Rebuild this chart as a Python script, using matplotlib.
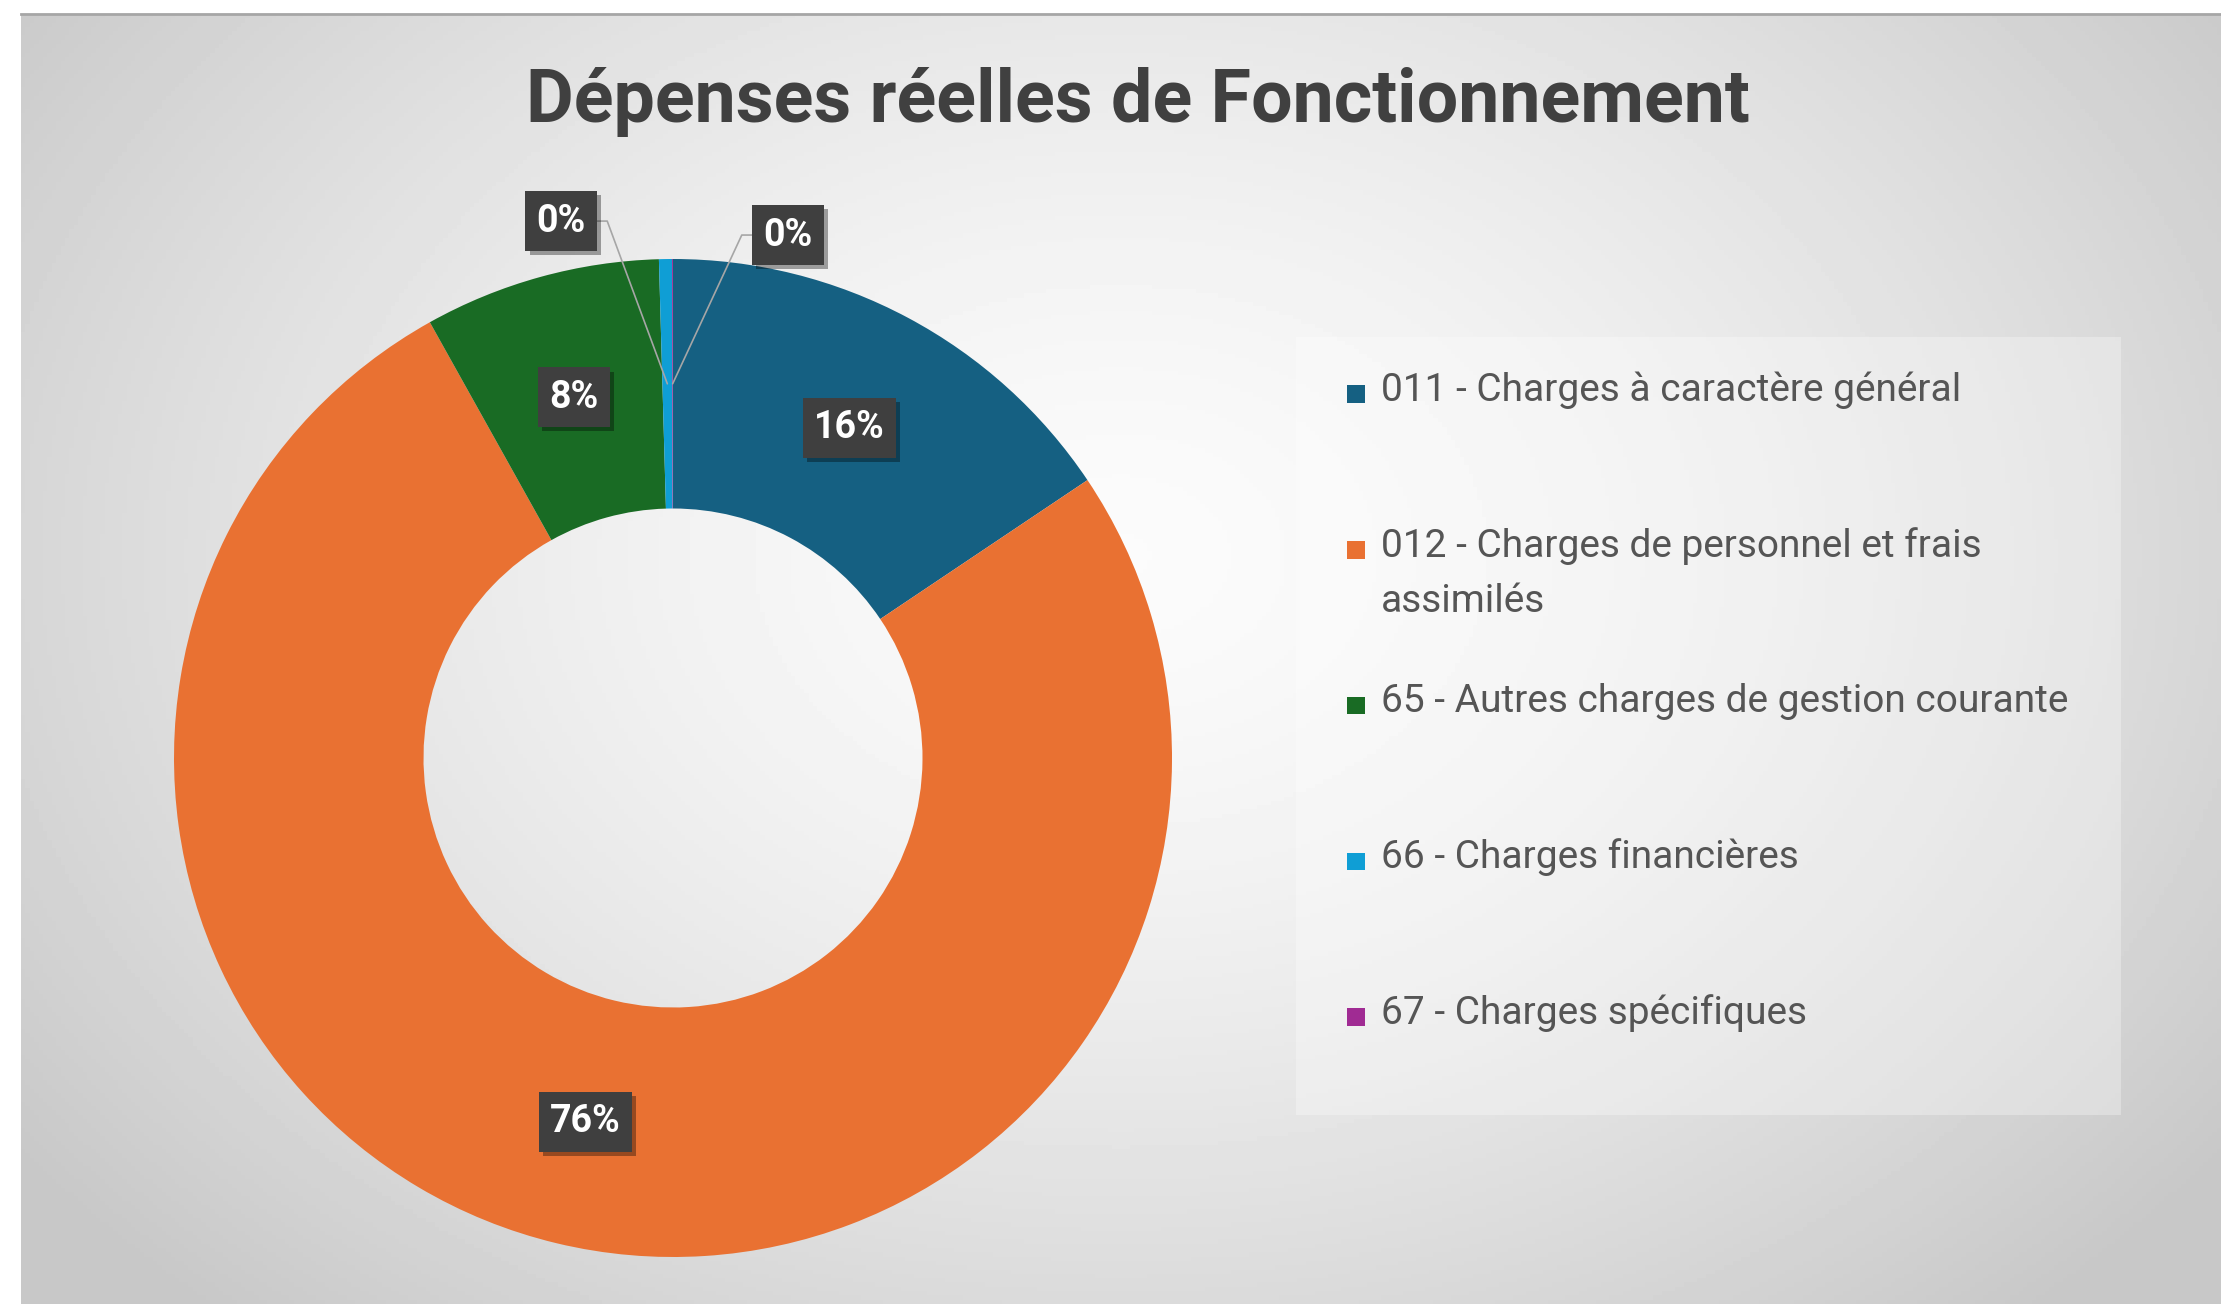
import numpy as np
import matplotlib.pyplot as plt
import matplotlib.patheffects as pe

# --- data -------------------------------------------------------------
categories = ["011 - Charges à caractère général",
              "012 - Charges de personnel et frais\nassimilés",
              "65 - Autres charges de gestion courante",
              "66 - Charges financières",
              "67 - Charges spécifiques"]
shares = [15.6, 76.3, 7.65, 0.42, 0.03]
pct_labels = ["16%", "76%", "8%", "0%", "0%"]
colors = ["#156082", "#E97132", "#196B24", "#0F9ED5", "#A02B93"]
title = "Dépenses réelles de Fonctionnement"

W, H = 2221, 1304
plt.rcParams['font.family'] = ['Roboto', 'DejaVu Sans']
fig = plt.figure(figsize=(W / 100, H / 100), dpi=100)
fig.patch.set_facecolor('white')

# background panel with radial gradient
bg = fig.add_axes([21 / W, 0, 1 - 21 / W, 1 - 14 / H])
yy, xx = np.mgrid[0:1:300j, 0:1:500j]
d = np.sqrt(((xx - 0.5) / 0.62) ** 2 + ((yy - 0.42) / 0.78) ** 2)
shade = 0.985 - 0.2 * np.clip(d, 0, 1) ** 1.5
bg.imshow(shade, cmap='gray', vmin=0, vmax=1, aspect='auto', extent=(0, 1, 0, 1))
bg.set_xticks([])
bg.set_yticks([])
for s in ['left', 'right', 'bottom']:
    bg.spines[s].set_visible(False)
bg.spines['top'].set_color('#a6a6a6')
bg.spines['top'].set_linewidth(2)

fig.text(1138 / W, 1 - 122 / H, title, ha='center', va='baseline',
         fontsize=53, fontweight='bold', color='#404040')

# donut
R, cx, cy = 499, 673, 758
half = 1.1 * R
ax = fig.add_axes([(cx - half) / W, (H - cy - half) / H, 2 * half / W, 2 * half / H])
wedges, _ = ax.pie(shares, colors=colors, startangle=90, counterclock=False, radius=1,
                   wedgeprops=dict(width=0.5, edgecolor='none', linewidth=0))
ax.set_xlim(-1.1, 1.1)
ax.set_ylim(-1.1, 1.1)
ax.set_aspect('equal')
ax.axis('off')

small_pos = iter([(-0.224, 1.076), (0.23, 1.048)])
small_arm = iter([0, 180])
for w, lab, val in zip(wedges, pct_labels, shares):
    mid = np.deg2rad((w.theta1 + w.theta2) / 2)
    px, py = 0.75 * np.cos(mid), 0.75 * np.sin(mid)
    box = dict(boxstyle='square,pad=0.3', facecolor='#3f3f3f', edgecolor='none')
    if val >= 1:
        t = ax.text(px, py, lab, ha='center', va='center', fontsize=27,
                    fontweight='bold', color='white', bbox=box)
    else:
        t = ax.annotate(lab, xy=(px, py), xytext=next(small_pos), ha='center', va='center',
                        fontsize=27, fontweight='bold', color='white', bbox=box,
                        arrowprops=dict(arrowstyle='-', color='#a6a6a6', lw=1.2,
                                        shrinkA=0, shrinkB=0,
                                        connectionstyle='arc,angleA=%d,armA=46,armB=0,rad=0'
                                        % next(small_arm)))
    t.get_bbox_patch().set_path_effects(
        [pe.withSimplePatchShadow(offset=(3, -3), shadow_rgbFace='black', alpha=0.35),
         pe.Normal()])

# legend
lg = fig.add_axes([1296 / W, (H - 1115) / H, 825 / W, 778 / H])
lg.set_xlim(0, 825)
lg.set_ylim(778, 0)
lg.set_facecolor((1, 1, 1, 0.3))
lg.set_xticks([])
lg.set_yticks([])
for s in lg.spines.values():
    s.set_visible(False)
for i, (cat, col) in enumerate(zip(categories, colors)):
    y = 57 + i * 155.8
    lg.scatter(60, y, marker='s', s=160, color=col, edgecolor='none')
    lg.text(85, y - 23, cat, ha='left', va='top', fontsize=28, color='#555555',
            linespacing=1.62)

fig.savefig('out.png', dpi=100)
